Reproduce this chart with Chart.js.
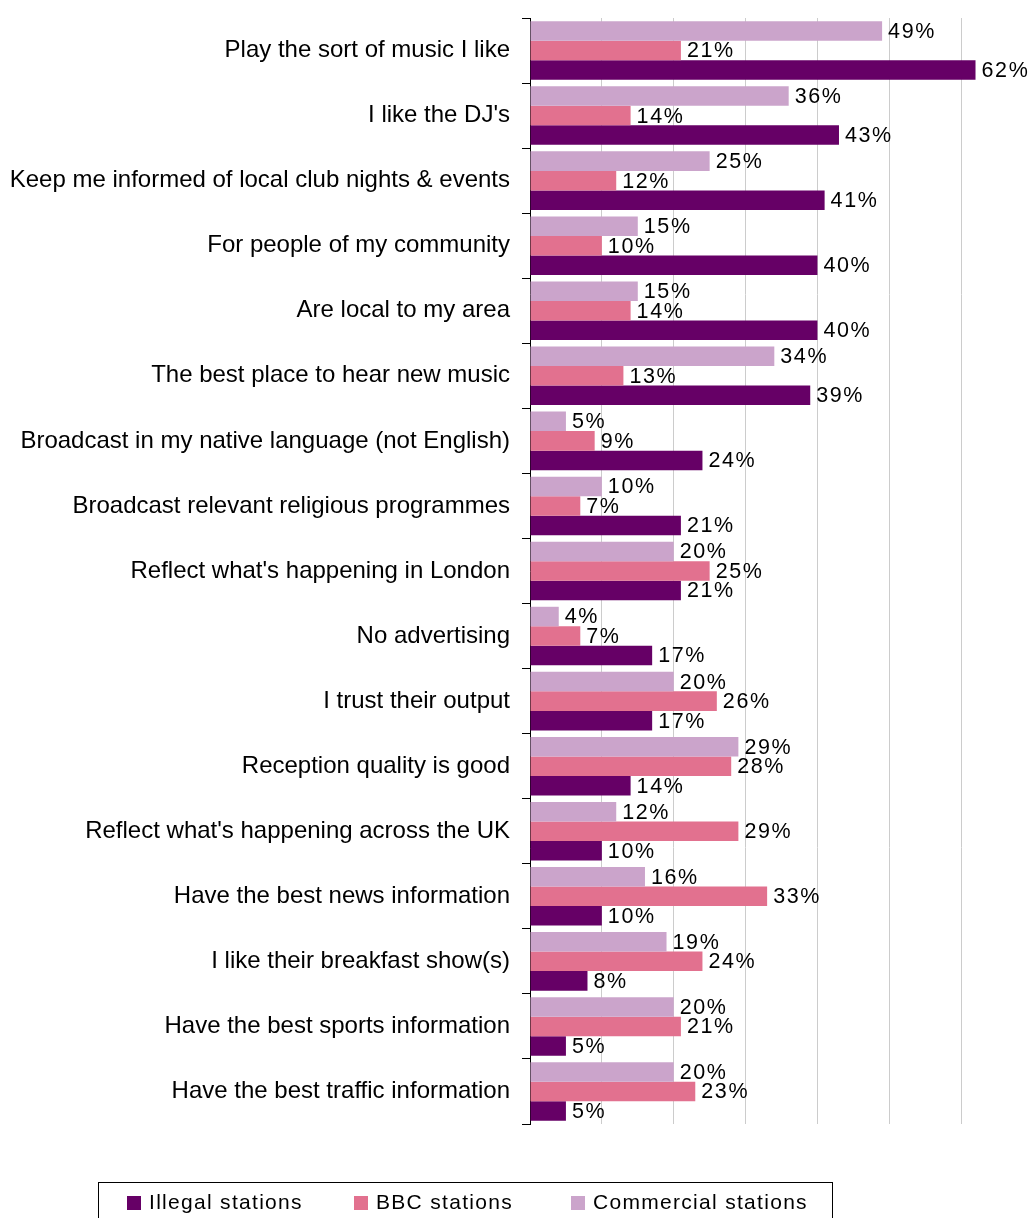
<!DOCTYPE html>
<html>
<head>
<meta charset="utf-8">
<script src="https://cdn.jsdelivr.net/npm/chart.js@4/dist/chart.umd.min.js"></script>
<style>
  body { margin: 0; background: #fff; }
  #wrap { position: relative; width: 1033px; height: 1218px; overflow: hidden; }
  #legend {
    position: absolute; left: 98px; top: 1182px; width: 733px; height: 60px;
    border: 1px solid #000; font: 21px "Liberation Sans", Arial, sans-serif; color: #000;
    letter-spacing: 1.3px;
  }
  #legend span.item { position: absolute; top: 7px; white-space: nowrap; }
  #legend i { display: inline-block; width: 14px; height: 14px; margin-right: 8px; vertical-align: -1px; }
</style>
</head>
<body>
<div id="wrap">
  <canvas id="myChart" width="1033" height="1218"></canvas>
  <div id="legend"></div>
</div>
<script>
const categories = [
  'Play the sort of music I like',
  "I like the DJ's",
  'Keep me informed of local club nights & events',
  'For people of my community',
  'Are local to my area',
  'The best place to hear new music',
  'Broadcast in my native language (not English)',
  'Broadcast relevant religious programmes',
  "Reflect what's happening in London",
  'No advertising',
  'I trust their output',
  'Reception quality is good',
  "Reflect what's happening across the UK",
  'Have the best news information',
  'I like their breakfast show(s)',
  'Have the best sports information',
  'Have the best traffic information',
];
const illegal = [62, 43, 41, 40, 40, 39, 24, 21, 21, 17, 17, 14, 10, 10, 8, 5, 5];
const bbc = [21, 14, 12, 10, 14, 13, 9, 7, 25, 7, 26, 28, 29, 33, 24, 21, 23];
const commercial = [49, 36, 25, 15, 15, 34, 5, 10, 20, 4, 20, 29, 12, 16, 19, 20, 20];
const xTicks = [0, 10, 20, 30, 40, 50, 60, 70];

const font = '"Liberation Sans", Arial, sans-serif';

// labels at the end of every bar
const valueLabels = {
  id: 'valueLabels',
  afterDatasetsDraw(chart) {
    const ctx = chart.ctx;
    ctx.save();
    ctx.font = '21.5px ' + font;
    ctx.letterSpacing = '1.6px';
    ctx.fillStyle = '#000';
    ctx.textBaseline = 'middle';
    chart.data.datasets.forEach((ds, i) => {
      chart.getDatasetMeta(i).data.forEach((bar, j) => {
        ctx.fillText(ds.data[j] + '%', bar.x + 6, bar.y + 1);
      });
    });
    ctx.restore();
  }
};

const ctx = document.getElementById('myChart').getContext('2d');
const myChart = new Chart(ctx, {
  type: 'bar',
  data: {
    labels: categories,
    datasets: [
      { label: 'Commercial stations', data: commercial, backgroundColor: '#CBA4CB' },
      { label: 'BBC stations', data: bbc, backgroundColor: '#E2718F' },
      { label: 'Illegal stations', data: illegal, backgroundColor: '#660066' },
    ],
  },
  options: {
    indexAxis: 'y',
    responsive: false,
    animation: false,
    layout: { padding: { top: 18, bottom: 94, left: 0, right: 0 } },
    datasets: { bar: { categoryPercentage: 0.9, barPercentage: 1.0 } },
    plugins: { legend: { display: false }, tooltip: { enabled: false } },
    scales: {
      x: {
        min: 0,
        max: 70,
        afterBuildTicks: s => { s.ticks = xTicks.map(v => ({ value: v })); },
        ticks: { display: false },
        border: { display: false },
        grid: { color: '#cccccc', lineWidth: 1, drawTicks: false },
      },
      y: {
        afterFit: s => { s.width = 530; s.paddingTop = 0; s.paddingBottom = 0; },
        border: { display: true, color: '#000', width: 1 },
        grid: { drawOnChartArea: false, drawTicks: true, tickLength: 8, color: '#000' },
        ticks: { color: '#000', padding: 12, font: { family: font, size: 24 }, autoSkip: false },
      },
    },
  },
  plugins: [valueLabels],
});

// legend box, same order as the original
const legendItems = [
  { text: 'Illegal stations', color: '#660066', left: 28 },
  { text: 'BBC stations', color: '#E2718F', left: 255 },
  { text: 'Commercial stations', color: '#CBA4CB', left: 472 },
];
document.getElementById('legend').innerHTML = legendItems
  .map(it => `<span class="item" style="left:${it.left}px"><i style="background:${it.color}"></i>${it.text}</span>`)
  .join('');
</script>
</body>
</html>
